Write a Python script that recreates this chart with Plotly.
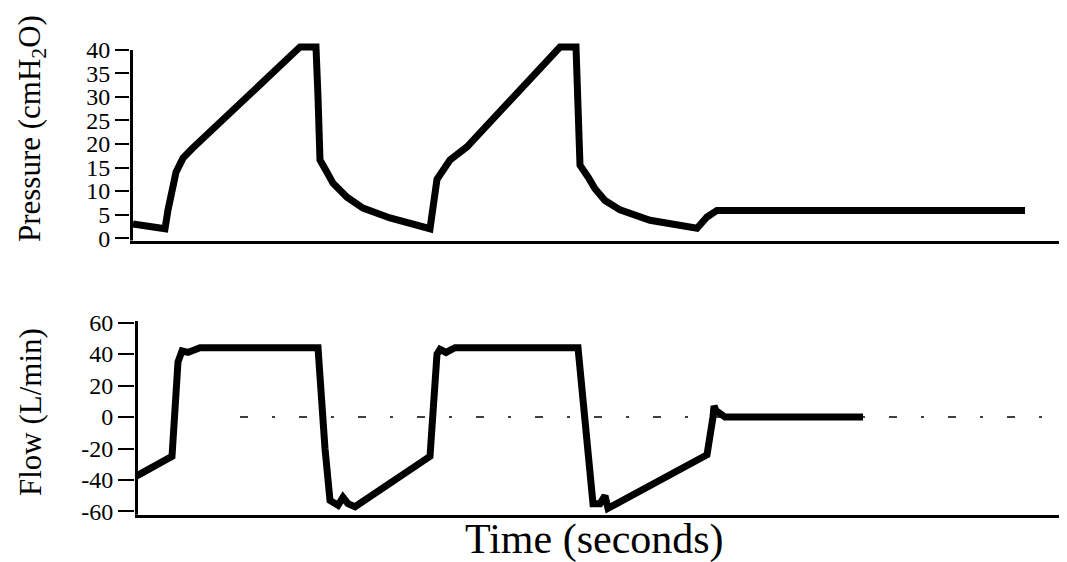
import plotly.graph_objects as go

# ---- data (time in seconds, arbitrary origin) ----
pressure_t = [0.03, 0.35, 0.38, 0.42, 0.46, 0.53, 0.62, 1.70, 1.86, 1.88, 1.90, 1.97, 2.03, 2.17, 2.33, 2.60, 2.93,
              3.00, 3.07, 3.20, 3.37, 4.30, 4.46, 4.48, 4.50, 4.58, 4.65, 4.75, 4.90, 5.20, 5.67, 5.77, 5.87, 8.95]
pressure_v = [3.0, 2.0, 6.0, 11.0, 14.0, 17.0, 19.0, 40.6, 40.6, 30.0, 16.6, 14.0, 11.7, 8.7, 6.4, 4.3, 2.3,
              2.0, 12.5, 16.6, 19.4, 40.6, 40.6, 30.0, 15.5, 13.0, 10.5, 8.0, 6.0, 3.8, 2.1, 4.5, 5.9, 5.9]

flow_t = [0.05, 0.42, 0.48, 0.52, 0.58, 0.70, 1.88, 1.90, 1.95, 2.00, 2.08, 2.13, 2.18, 2.25, 3.00,
          3.07, 3.10, 3.16, 3.25, 4.48, 4.52, 4.58, 4.63, 4.70, 4.75, 4.78, 5.77, 5.83, 5.84, 5.86, 5.95, 7.33]
flow_v = [-38, -25, 35, 42, 41, 44, 44, 20, -20, -53, -56, -51, -55, -57, -25,
          40, 43, 41, 44, 44, 20, -20, -55, -55, -50, -58, -24, 0, 7, 4, 0, 0]

pressure_ticks = [0, 5, 10, 15, 20, 25, 30, 35, 40]
pressure_labels = ["0", "5", "10", "15", "20", "25", "30", "35", "40"]
flow_ticks = [-60, -40, -20, 0, 20, 40, 60]
flow_labels = ["-60", "-40", "-20", "0", "20", "40", "60"]

serif = "Liberation Serif"

fig = go.Figure()
fig.add_trace(go.Scatter(x=pressure_t, y=pressure_v, mode="lines",
                         line=dict(color="black", width=7), xaxis="x", yaxis="y", showlegend=False))
fig.add_trace(go.Scatter(x=flow_t, y=flow_v, mode="lines",
                         line=dict(color="black", width=7), xaxis="x2", yaxis="y2", showlegend=False))

axis_common = dict(showgrid=False, zeroline=False, color="black")
tickfont = dict(family=serif, size=24, color="black")

fig.update_layout(
    width=1059, height=554,
    margin=dict(l=122, r=2, t=32, b=40),
    paper_bgcolor="white", plot_bgcolor="white",
    font=dict(family=serif, color="black"),
    xaxis=dict(domain=[0, 1], range=[0, 9.35], showticklabels=False, ticks="",
               showline=True, linecolor="black", linewidth=2.5, anchor="y", **axis_common),
    yaxis=dict(domain=[0.584, 0.999], range=[-0.5, 42], tickvals=pressure_ticks, ticktext=pressure_labels,
               ticks="outside", ticklen=14, tickwidth=2, tickcolor="black", tickfont=tickfont,
               showline=False, anchor="x", **axis_common),
    xaxis2=dict(domain=[0.00535, 1], range=[0.05, 9.35], showticklabels=False, ticks="",
                showline=True, linecolor="black", linewidth=2.5, anchor="y2", **axis_common),
    yaxis2=dict(domain=[0.01525, 0.4204], range=[-62, 62], tickvals=flow_ticks, ticktext=flow_labels,
                ticks="outside", ticklen=16, tickwidth=2, tickcolor="black", tickfont=tickfont,
                showline=False, anchor="x2", **axis_common),
    shapes=[
        dict(type="line", xref="x", yref="y", x0=0.005, x1=0.005, y0=-0.8, y1=40,
             line=dict(color="black", width=5)),
        dict(type="line", xref="x2", yref="y2", x0=0.055, x1=0.055, y0=-63, y1=61,
             line=dict(color="black", width=5)),
        dict(type="line", xref="x2", yref="y2", x0=1.1, x1=9.35, y0=0, y1=0,
             line=dict(color="black", width=1.5, dash="8px,24px,3px,24px"), layer="below"),
    ],
    annotations=[
        dict(text="Pressure (cmH<sub>2</sub>O)", xref="paper", yref="paper", x=-0.105, y=0.817,
             textangle=-90, showarrow=False, font=dict(family=serif, size=31, color="black"),
             xanchor="center", yanchor="middle"),
        dict(text="Flow (L/min)", xref="paper", yref="paper", x=-0.107, y=0.228,
             textangle=-90, showarrow=False, font=dict(family=serif, size=31, color="black"),
             xanchor="center", yanchor="middle"),
        dict(text="Time (seconds)", xref="paper", yref="paper", x=0.497, y=-0.036,
             showarrow=False, font=dict(family=serif, size=42, color="black"),
             xanchor="center", yanchor="middle"),
    ],
)

fig.write_html("out.html")
